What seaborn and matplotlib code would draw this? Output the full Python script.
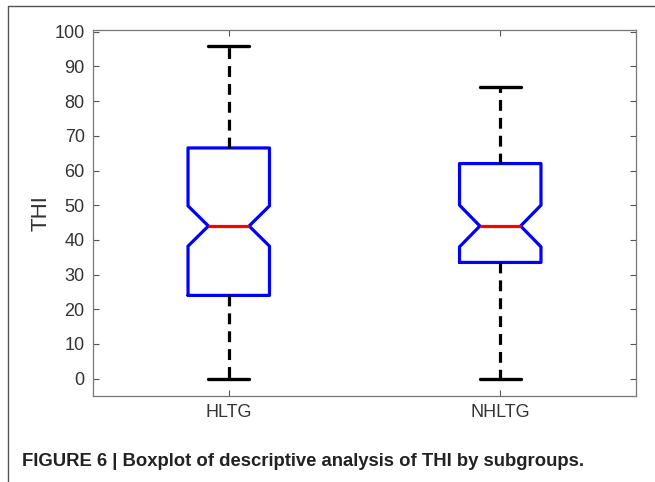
import matplotlib
matplotlib.use("Agg")
import matplotlib.pyplot as plt
from matplotlib.lines import Line2D
import seaborn as sns

# Set plot style
sns.set_style("white")
plt.rcParams['font.family'] = ['Liberation Sans', 'DejaVu Sans']

# -----------------------------
# Data (THI by subgroup)
# -----------------------------
groups = ['HLTG', 'NHLTG']
whisker_low = [0, 0]
q1 = [24, 33.5]
median = [44, 44]
q3 = [66.5, 62]
whisker_high = [96, 84]
notch_low = [38.2, 38.0]
notch_high = [49.8, 50.0]

stats = []
for i, g in enumerate(groups):
    stats.append({'label': g, 'whislo': whisker_low[i], 'q1': q1[i],
                  'med': median[i], 'q3': q3[i], 'whishi': whisker_high[i],
                  'cilo': notch_low[i], 'cihi': notch_high[i], 'fliers': []})

fig = plt.figure(figsize=(6.55, 4.82), dpi=100)
ax = fig.add_axes([93 / 655, 1 - 396 / 482, 543 / 655, 366 / 482])

ax.bxp(stats, positions=[1, 2], widths=0.3, shownotches=True,
       showfliers=False, capwidths=0.15,
       boxprops=dict(color='#0000ff', linewidth=2.3),
       medianprops=dict(color='#ff0000', linewidth=2.3),
       whiskerprops=dict(color='black', linewidth=2.3, linestyle=(0, (3.4, 2.2))),
       capprops=dict(color='black', linewidth=2.4))

ax.set_xlim(0.5, 2.5)
ax.set_ylim(-5, 100.5)
ax.set_yticks(range(0, 101, 10))
ax.set_xticks([1, 2])
ax.set_xticklabels(groups)
ax.tick_params(direction='in', length=4, width=0.8, color='#555555',
               labelcolor='#333333', labelsize=13, top=True, right=True,
               left=True, bottom=True, pad=6)
for s in ax.spines.values():
    s.set_color('#777777')
    s.set_linewidth(0.9)
ax.set_ylabel('THI', fontsize=16, color='#333333', labelpad=2)

# figure frame (left and top edge of the panel)
fig.add_artist(Line2D([8 / 655, 8 / 655], [0, 1 - 6 / 482], color='#555555', lw=1.0))
fig.add_artist(Line2D([8 / 655, 1], [1 - 6 / 482, 1 - 6 / 482], color='#555555', lw=1.0))

fig.text(22 / 655, 1 - 462 / 482,
         'FIGURE 6 | Boxplot of descriptive analysis of THI by subgroups.',
         fontsize=13.3, fontweight='bold', color='#222222', va='center', ha='left')

fig.savefig('out.png', dpi=100)
